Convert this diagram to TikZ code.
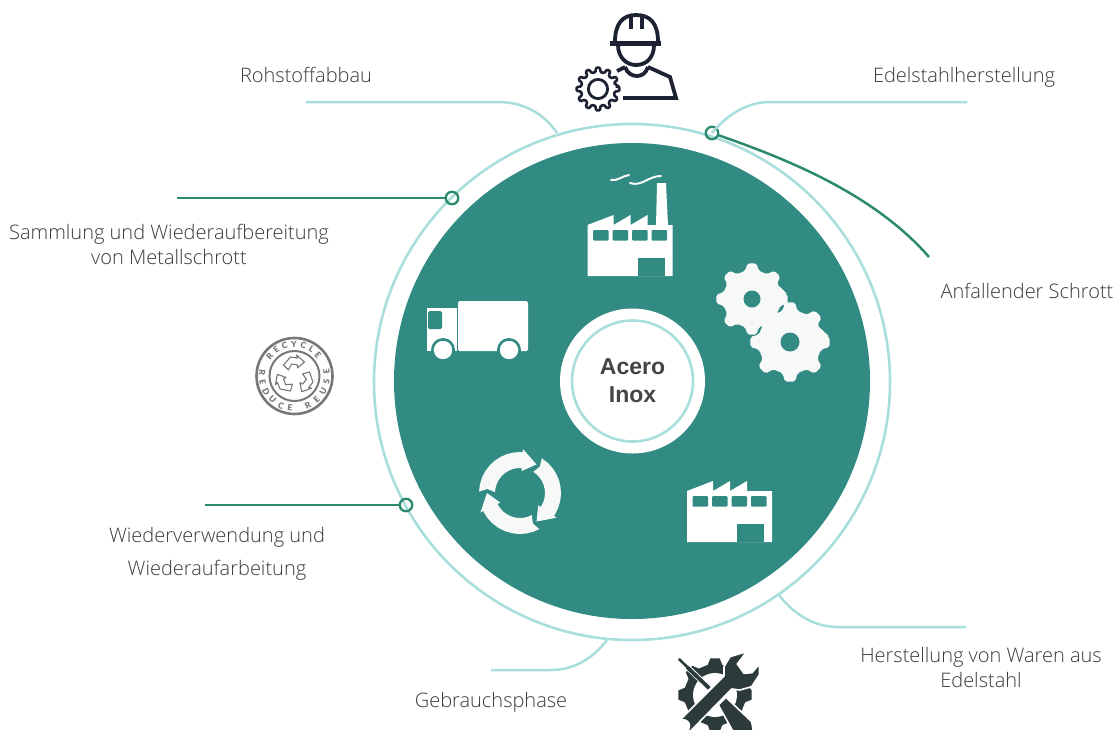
\documentclass[tikz,border=0pt]{standalone}
\usepackage{fontspec}
\setmainfont{Open Sans Light}
\newfontfamily\corefont{Liberation Sans}
\newfontfamily\badgefam{Lato Black}
\usetikzlibrary{decorations.text}
\definecolor{tealfill}{HTML}{318B82}
\definecolor{softring}{HTML}{A8DEDC}
\definecolor{darkline}{HTML}{2C8B6E}
\definecolor{labelgray}{HTML}{3A3A3A}
\definecolor{coregray}{HTML}{444444}
\definecolor{badgegray}{HTML}{777777}
\definecolor{toolgray}{HTML}{2C3A3B}
\definecolor{workerink}{HTML}{1D2233}
\definecolor{iconwhite}{HTML}{F6F9F8}
\newcommand{\gearpath}[3]{({0.16*360/#3}:#1pt) \foreach \kt in {1,...,#3}{ -- ({(\kt-0.30)*360/#3}:#2pt) -- ({(\kt-0.16)*360/#3}:#1pt) -- ({(\kt+0.16)*360/#3}:#1pt) -- ({(\kt+0.30)*360/#3}:#2pt)} -- cycle}
\newcommand{\badgefont}{\fontsize{8.5}{9}\badgefam\color{badgegray}}
\tikzset{
softline/.style={softring,line width=2.5pt},
darkconn/.style={darkline,line width=2.5pt},
portdot/.style={circle,draw=darkline,line width=2.3pt,fill=none,inner sep=0pt,minimum size=12.5pt},
lb/.style={text=labelgray,font=\fontsize{20}{25}\selectfont,align=center,inner sep=0pt},
workerline/.style={workerink,line width=3.8pt},
factorybody/.pic={
\fill[white] (0,0)--(0,-51)--(26,-61)--(26,-51)--(43,-61)--(43,-51)--(60,-61)--(60,-51)--(85,-51)--(85,0)--cycle;
\foreach \kw in {5.5,25,44.5,64}{\fill[tealfill,rounded corners=1pt] (\kw,-46) rectangle ++(15.5,10.5);}
\fill[tealfill] (50,0) rectangle (77,-18);
}
}
\begin{document}
\begin{tikzpicture}[x=1pt,y=-1pt]
\pgfmathsetmacro{\kring}{258*2}
\pgfmathsetmacro{\khub}{238*2}
\useasboundingbox (0,0) rectangle (1116,729);
% the rings
\node[circle,draw=softring,line width=2.6pt,fill=white,inner sep=0pt,minimum size=\kring pt] (ring) at (632,382) {};
\node[circle,fill=tealfill,inner sep=0pt,minimum size=\khub pt] (hub) at (632,381) {};
\node[circle,fill=white,inner sep=0pt,minimum size=145pt] (core) at (632.5,381) {};
\node[circle,draw=softring,line width=2.6pt,inner sep=0pt,minimum size=121pt,text=coregray,align=center,font=\fontsize{23}{28}\corefont\bfseries] (corering) at (632.5,381) {Acero\\Inox};
% labels
\foreach \kx/\ky/\kn/\lbtext in {306/75/rohstoff/{Rohstoffabbau},964/77/edelstahl/{Edelstahlherstellung},169/244/sammlung/{Sammlung und Wiederaufbereitung\\von Metallschrott},1027/291/schrott/{Anfallender Schrott},981/667/waren/{Herstellung von Waren aus\\Edelstahl},491/702/gebrauch/{Gebrauchsphase}}{
\node[lb] (\kn) at (\kx,\ky) {\lbtext};}
\node[lb] (wieder) at (217,553.5) {Wiederverwendung und\\[8pt]Wiederaufarbeitung};
% connectors
\node[portdot] (dotedel) at (712,133) {};
\node[portdot] (dotsamm) at (452,198) {};
\node[portdot] (dotwied) at (406,505) {};
\coordinate (rohfree) at (306,102);
\coordinate (rohring) at (557,133);
\coordinate (edelfree) at (967,102);
\coordinate (schrottfree) at (929,257);
\coordinate (sammfree) at (177,198);
\coordinate (wiedfree) at (205,505);
\coordinate (warenfree) at (966,627);
\coordinate (warenring) at (779,595);
\coordinate (gebrfree) at (491,670);
\coordinate (gebrring) at (607,640);
\draw[softline] (rohfree)--(498,102) .. controls (525,102) and (545,115) .. (rohring);
\draw[softline] (edelfree)--(770,102) .. controls (745,102) and (725,117) .. (dotedel.center);
\draw[softline] (warenfree)--(838,627) .. controls (812,627) and (792,612) .. (warenring);
\draw[softline] (gebrfree)--(550,670) .. controls (575,670) and (593,658) .. (gebrring);
\draw[darkconn] (dotedel) .. controls (790,160) and (875,195) .. (schrottfree);
\draw[darkconn] (sammfree)--(dotsamm);
\draw[darkconn] (wiedfree)--(dotwied);
% worker
\draw[workerline] (615,42) .. controls (615,23) and (623,15) .. (636,15) .. controls (650,15) and (658,23) .. (658,42);
\draw[workerline] (631,29)--(631,15);
\draw[workerline] (642,29)--(642,15);
\draw[workerink,line width=5pt] (610,43)--(661,43);
\draw[workerline] (618,45) .. controls (618,58) and (627,65) .. (636,65) .. controls (646,65) and (654,58) .. (654,45);
\draw[workerline] (625,67) .. controls (627,73) and (632,76) .. (637,76) .. controls (642,76) and (646,73) .. (648,67);
\draw[workerline] (617,71)--(625,67);
\draw[workerline] (648,67)--(670,77)--(676,98)--(623,98);
\begin{scope}[shift={(598,89)}]
\draw[workerink,line width=2.6pt,rounded corners=1pt] \gearpath{21.5}{17}{12};
\draw[workerink,line width=2.8pt] (0,0) circle[radius=9.6pt];
\end{scope}
% badge
\begin{scope}[shift={(294.5,376)}]
\draw[badgegray,line width=2.6pt] (0,0) circle[radius=38pt];
\draw[badgegray,line width=2pt] (0,0) circle[radius=25pt];
\path[decorate,decoration={text along path,text align=fit to path,text={|\badgefont|RECYCLE}}] (147:28.5pt) arc[start angle=147,end angle=37,radius=28.5pt];
\path[decorate,decoration={text along path,text align=fit to path,text={|\badgefont|REDUCE}}] (170:35.5pt) arc[start angle=170,end angle=266,radius=35.5pt];
\path[decorate,decoration={text along path,text align=fit to path,text={|\badgefont|REUSE}}] (290:35.5pt) arc[start angle=290,end angle=372,radius=35.5pt];
\foreach \kang in {0,120,240}{
\draw[badgegray,line width=1.1pt,line join=round,rotate=\kang] (-11,-11)--(-4,-19)--(3,-18)--(2,-21)--(10,-14)--(3,-8)--(3,-11)--(-3,-12)--(-6,-6)--cycle;}
\end{scope}
% tools
\begin{scope}[shift={(715,695)}]
\fill[toolgray] \gearpath{37}{31}{8};
\fill[white] (0,0) circle[radius=22pt];
\end{scope}
\begin{scope}[shift={(650,640)},x=0.3333pt,y=-0.3333pt]
\draw[white,line width=5.5pt] (88,58)--(178,145);
\draw[toolgray,line width=2.6pt,line cap=round] (88,58)--(120,89);
\draw[toolgray,line width=3.8pt] (112,82)--(178,145);
\fill[toolgray,draw=white,line width=1.6pt] (205,195)--(228,172)--(305,245)--(312,285)--(255,285)--cycle;
\fill[toolgray,draw=white,line width=1.6pt] (80,250)--(222,108)--(222,80)--(240,50)--(290,35)--(262,72)--(282,100)--(306,98)--(328,72)--(328,105)--(305,140)--(270,150)--(245,147)--(110,285)--(90,285)--cycle;
\fill[white] (100,258) circle[radius=7pt];
\end{scope}
% factories
\pic at (587.5,276) {factorybody};
\fill[white] (656,226)--(657,183)--(666,183)--(668,226)--cycle;
\draw[iconwhite,line width=2pt,line cap=round] (611,180) .. controls (618,181) and (622,176) .. (629,175);
\draw[iconwhite,line width=2pt,line cap=round] (630,183) .. controls (642,187) and (648,176) .. (661,176);
\pic at (687,542) {factorybody};
% gears
\begin{scope}[shift={(752,299)}]
\fill[iconwhite,rounded corners=2pt] \gearpath{36}{29}{8};
\fill[tealfill] (0,0) circle[radius=8.5pt];
\end{scope}
\begin{scope}[shift={(790,342)}]
\fill[iconwhite,rounded corners=2pt] \gearpath{40}{32}{8};
\fill[tealfill] (0,0) circle[radius=9.5pt];
\end{scope}
% truck
\fill[white,rounded corners=1.5pt] (458,301) rectangle (528,351);
\fill[white] (427,308) rectangle (456.5,351);
\fill[tealfill,rounded corners=1.5pt] (428,311) rectangle (442,329);
\foreach \kx in {443,509}{
\fill[tealfill] (\kx,350) circle[radius=12pt];
\fill[white] (\kx,350) circle[radius=9.2pt];}
% recycling arrows
\begin{scope}[shift={(520,493)}]
\foreach \kang in {0,120,240}{
\fill[iconwhite] (\kang+182:41) \foreach \kt in {10,20,...,90}{ -- (\kang+182+\kt:41)} -- (\kang+274:41) -- (\kang+274:44) -- (\kang+300:33) -- (\kang+274:22) -- (\kang+274:25) \foreach \kt in {90,80,...,0}{ -- (\kang+182+\kt:25)} -- (\kang+187:33) -- cycle;
}
\end{scope}
\end{tikzpicture}
\end{document}
